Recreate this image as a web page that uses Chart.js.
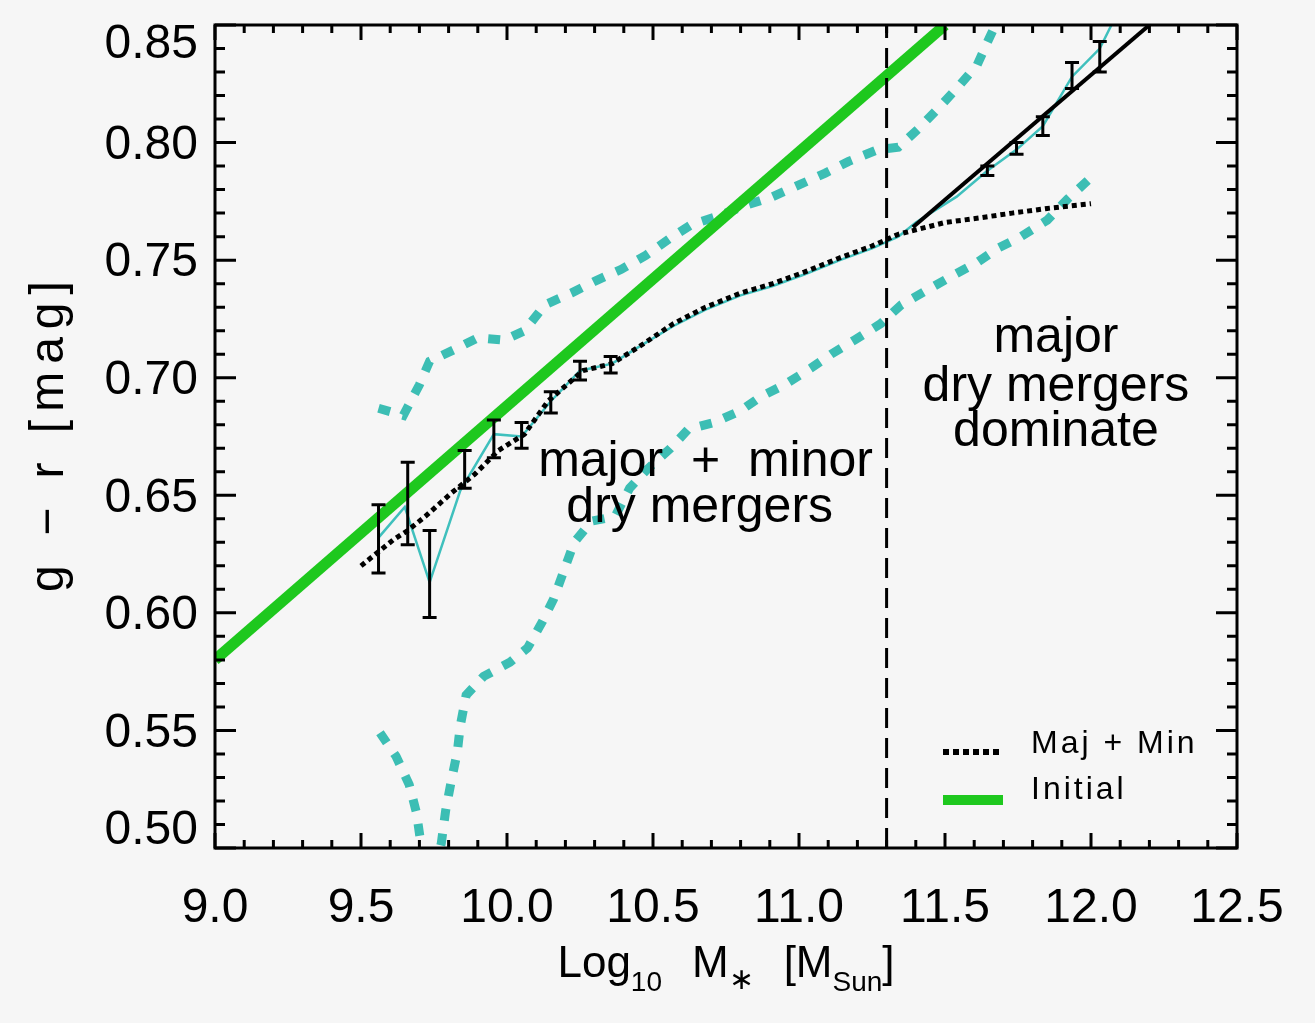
<!DOCTYPE html>
<html>
<head>
<meta charset="utf-8">
<title>g - r colour vs stellar mass</title>
<script src="https://cdn.jsdelivr.net/npm/chart.js@4.4.1/dist/chart.umd.min.js"></script>
<style>
  html, body { margin: 0; padding: 0; background: #f6f6f6; }
  canvas { display: block; }
</style>
</head>
<body>
<canvas id="cmr" width="1315" height="1023"></canvas>
<script>
// axes
const xTicks = [9.0, 9.5, 10.0, 10.5, 11.0, 11.5, 12.0, 12.5];
const yTicks = [0.50, 0.55, 0.60, 0.65, 0.70, 0.75, 0.80, 0.85];

// initial relation (green)
const initX = [9.0, 11.5];
const initY = [0.58, 0.85];

// major + minor dry mergers (dotted)
const majMinX = [9.50, 9.56, 9.61, 9.66, 9.72, 9.81, 9.89, 9.97, 10.06, 10.14, 10.26, 10.36, 10.45,
                 10.57, 10.68, 10.80, 10.91, 11.02, 11.14, 11.25, 11.34, 11.50, 11.62, 11.73, 11.85, 12.00];
const majMinY = [0.620, 0.626, 0.631, 0.635, 0.641, 0.651, 0.659, 0.669, 0.676, 0.690, 0.703, 0.706, 0.713,
                 0.723, 0.730, 0.736, 0.740, 0.745, 0.751, 0.756, 0.761, 0.766, 0.768, 0.770, 0.772, 0.774];

// binned medians (thin cyan)
const binX = [9.56, 9.65, 9.735, 9.84, 9.955, 10.05, 10.15, 10.25, 10.36, 10.45, 10.57, 10.68, 10.80,
              10.91, 11.02, 11.14, 11.25, 11.34, 11.40, 11.54, 11.645, 11.745, 11.835, 11.935, 12.03, 12.07];
const binY = [0.632, 0.645, 0.613, 0.652, 0.676, 0.675, 0.690, 0.703, 0.706, 0.713, 0.722, 0.729, 0.735,
              0.739, 0.744, 0.750, 0.755, 0.760, 0.766, 0.777, 0.788, 0.797, 0.807, 0.828, 0.840, 0.850];

// major-only branch (solid black)
const majX = [11.39, 12.20];
const majY = [0.764, 0.850];

// error bars
const ebX  = [9.56, 9.66, 9.735, 9.855, 9.955, 10.05, 10.15, 10.25, 10.355, 11.645, 11.745, 11.835, 11.935, 12.03];
const ebLo = [0.617, 0.629, 0.598, 0.653, 0.666, 0.670, 0.685, 0.699, 0.702, 0.786, 0.795, 0.803, 0.823, 0.830];
const ebHi = [0.646, 0.664, 0.635, 0.669, 0.682, 0.681, 0.694, 0.707, 0.709, 0.790, 0.800, 0.811, 0.834, 0.843];

// scatter envelope (cyan dashed)
const upX = [9.56, 9.645, 9.70, 9.735, 9.82, 9.90, 9.99, 10.06, 10.13, 10.22, 10.30, 10.39, 10.475, 10.555,
             10.63, 10.73, 10.81, 10.91, 11.0, 11.09, 11.17, 11.27, 11.34, 11.41, 11.48, 11.54, 11.61, 11.65, 11.68];
const upY = [0.687, 0.684, 0.697, 0.707, 0.712, 0.717, 0.716, 0.720, 0.731, 0.736, 0.741, 0.746, 0.752, 0.759,
             0.765, 0.769, 0.773, 0.777, 0.782, 0.787, 0.792, 0.797, 0.798, 0.806, 0.815, 0.823, 0.833, 0.844, 0.852];
const loX = [9.565, 9.62, 9.665, 9.69, 9.705, 9.74, 9.775, 9.79, 9.81, 9.83, 9.84, 9.86, 9.92, 10.01, 10.07,
             10.12, 10.16, 10.195, 10.23, 10.29, 10.37, 10.42, 10.48, 10.56, 10.62, 10.71, 10.80, 10.87, 10.95,
             11.04, 11.11, 11.19, 11.28, 11.35, 11.435, 11.52, 11.61, 11.68, 11.76, 11.85, 11.92, 11.99];
const loY = [0.549, 0.539, 0.527, 0.515, 0.502, 0.485, 0.502, 0.516, 0.529, 0.541, 0.552, 0.565, 0.573, 0.579, 0.585,
             0.596, 0.606, 0.618, 0.630, 0.639, 0.641, 0.653, 0.661, 0.670, 0.678, 0.681, 0.686, 0.692, 0.697,
             0.704, 0.710, 0.716, 0.723, 0.731, 0.737, 0.743, 0.749, 0.755, 0.760, 0.767, 0.776, 0.784];

// regime boundary
const splitMass = 11.3;

const FONT = '"Liberation Sans", Arial, sans-serif';
const pts = (xs, ys) => xs.map((v, i) => ({ x: v, y: ys[i] }));

// draw a string char by char with extra spacing
function spacedWidth(c, txt, ls) {
    let w = 0;
    for (const ch of txt) w += c.measureText(ch).width + ls;
    return w - ls;
}
function spaced(c, txt, x, y, ls) {
    let cx = x;
    for (const ch of txt) {
        c.fillText(ch, cx, y);
        cx += c.measureText(ch).width + ls;
    }
}

const decor = {
    id: 'decor',
    beforeDraw(chart) {
        const c = chart.ctx;
        c.save();
        c.fillStyle = '#f6f6f6';
        c.fillRect(0, 0, chart.width, chart.height);
        c.restore();
    },
    afterDatasetsDraw(chart) {
        const { ctx: c, chartArea: a, scales: { x, y } } = chart;
        c.save();
        c.beginPath();
        c.rect(a.left, a.top, a.right - a.left, a.bottom - a.top);
        c.clip();
        c.strokeStyle = '#000';
        c.lineWidth = 3;
        ebX.forEach((v, i) => {
            const px = x.getPixelForValue(v);
            const lo = y.getPixelForValue(ebLo[i]);
            const hi = y.getPixelForValue(ebHi[i]);
            c.beginPath();
            c.moveTo(px, lo); c.lineTo(px, hi);
            c.moveTo(px - 7, lo); c.lineTo(px + 7, lo);
            c.moveTo(px - 7, hi); c.lineTo(px + 7, hi);
            c.stroke();
        });
        c.restore();
    },
    afterDraw(chart) {
        const { ctx: c, chartArea: a, scales: { x, y } } = chart;
        c.save();
        c.strokeStyle = '#000';
        c.fillStyle = '#000';
        c.lineWidth = 3;

        // box + inward ticks
        c.strokeRect(a.left, a.top, a.right - a.left, a.bottom - a.top);
        c.beginPath();
        for (let k = 0; k <= 35; k++) {
            const px = x.getPixelForValue(xTicks[0] + k * 0.1);
            const len = k % 5 === 0 ? 15 : 8;
            c.moveTo(px, a.bottom); c.lineTo(px, a.bottom - len);
            c.moveTo(px, a.top); c.lineTo(px, a.top + len);
        }
        for (let k = 0; k <= 35; k++) {
            const py = y.getPixelForValue(yTicks[0] + k * 0.01);
            const len = k % 5 === 0 ? 21 : 10;
            c.moveTo(a.left, py); c.lineTo(a.left + len, py);
            c.moveTo(a.right, py); c.lineTo(a.right - len, py);
        }
        c.stroke();

        // y tick labels
        c.font = '48px ' + FONT;
        c.textAlign = 'right';
        c.textBaseline = 'middle';
        yTicks.forEach(v => {
            const py = Math.min(Math.max(y.getPixelForValue(v) + 3, a.top + 20), a.bottom - 17);
            c.fillText(v.toFixed(2), a.left - 17, py);
        });

        // x title: Log10 M* [Msun]
        const parts = [
            ['Log', 44, 0, 0], ['10', 28, 14, 30], ['M', 44, 0, 0], ['\u2217', 30, 12, 30],
            ['[', 44, 0, 0], ['M', 44, 0, 0], ['Sun', 28, 14, 0], [']', 44, 0, 0]
        ];
        let total = 0;
        parts.forEach(p => { c.font = p[1] + 'px ' + FONT; total += c.measureText(p[0]).width + p[3]; });
        let cx = (a.left + a.right) / 2 - total / 2;
        c.textAlign = 'left';
        c.textBaseline = 'alphabetic';
        parts.forEach(p => {
            c.font = p[1] + 'px ' + FONT;
            c.fillText(p[0], cx, 977 + p[2]);
            cx += c.measureText(p[0]).width + p[3];
        });

        // y title
        c.save();
        c.translate(63, (a.top + a.bottom) / 2);
        c.rotate(-Math.PI / 2);
        c.font = '48px ' + FONT;
        const yt = 'g \u2212 r [mag]';
        spaced(c, yt, -spacedWidth(c, yt, 8) / 2, 0, 8);
        c.restore();

        // annotations
        c.font = '50px ' + FONT;
        c.textAlign = 'center';
        c.fillText('major  +  minor', x.getPixelForValue(10.68), y.getPixelForValue(0.658));
        c.fillText('dry mergers', x.getPixelForValue(10.66), y.getPixelForValue(0.6385));
        c.fillText('major', x.getPixelForValue(11.88), y.getPixelForValue(0.7108));
        c.fillText('dry mergers', x.getPixelForValue(11.88), y.getPixelForValue(0.6899));
        c.fillText('dominate', x.getPixelForValue(11.88), y.getPixelForValue(0.6708));

        // legend
        const lx0 = a.right - 294, lx1 = a.right - 234;
        c.lineWidth = 6;
        c.setLineDash([6, 4]);
        c.beginPath(); c.moveTo(lx0, a.bottom - 96); c.lineTo(lx1, a.bottom - 96); c.stroke();
        c.setLineDash([]);
        c.strokeStyle = '#1ec81e';
        c.lineWidth = 10;
        c.beginPath(); c.moveTo(lx0, a.bottom - 48); c.lineTo(lx1, a.bottom - 48); c.stroke();
        c.font = '32px ' + FONT;
        c.textAlign = 'left';
        c.textBaseline = 'middle';
        spaced(c, 'Maj + Min', a.right - 206, a.bottom - 104, 3);
        spaced(c, 'Initial', a.right - 206, a.bottom - 58, 3);
        c.restore();
    }
};

new Chart(document.getElementById('cmr'), {
    type: 'line',
    data: {
        datasets: [
            { label: 'split', data: pts([splitMass, splitMass], [yTicks[0], yTicks[yTicks.length - 1]]),
              borderColor: '#000', borderWidth: 3, borderDash: [20, 10], order: 0 },
            { label: 'Maj + Min', data: pts(majMinX, majMinY),
              borderColor: '#000', borderWidth: 5, borderDash: [5, 4], order: 1 },
            { label: 'Maj', data: pts(majX, majY),
              borderColor: '#000', borderWidth: 4, order: 2 },
            { label: 'bins', data: pts(binX, binY),
              borderColor: '#3fc0bd', borderWidth: 2.5, order: 3 },
            { label: 'Initial', data: pts(initX, initY),
              borderColor: '#1ec81e', borderWidth: 11, order: 4 },
            { label: 'upper', data: pts(upX, upY),
              borderColor: '#3cbeb4', borderWidth: 9, borderDash: [12, 13], order: 5 },
            { label: 'lower', data: pts(loX, loY),
              borderColor: '#3cbeb4', borderWidth: 9, borderDash: [12, 13], order: 6 }
        ]
    },
    options: {
        responsive: false,
        animation: false,
        devicePixelRatio: 1,
        elements: { point: { radius: 0, hoverRadius: 0 }, line: { tension: 0, fill: false } },
        layout: { padding: { left: 0, right: 78, top: 25, bottom: 0 } },
        plugins: { legend: { display: false }, tooltip: { enabled: false } },
        events: [],
        scales: {
            x: {
                type: 'linear',
                min: xTicks[0], max: xTicks[xTicks.length - 1],
                grid: { display: false },
                border: { display: false },
                afterBuildTicks: s => { s.ticks = xTicks.map(v => ({ value: v })); },
                afterFit: s => { s.height = 175; },
                ticks: {
                    autoSkip: false, maxRotation: 0, padding: 29, color: '#000',
                    font: { family: FONT, size: 48, lineHeight: 1 },
                    callback: v => Number(v).toFixed(1)
                }
            },
            y: {
                type: 'linear',
                min: yTicks[0], max: yTicks[yTicks.length - 1],
                grid: { display: false },
                border: { display: false },
                afterBuildTicks: s => { s.ticks = yTicks.map(v => ({ value: v })); },
                afterFit: s => { s.width = 215; },
                ticks: { display: false }
            }
        }
    },
    plugins: [decor]
});
</script>
</body>
</html>
